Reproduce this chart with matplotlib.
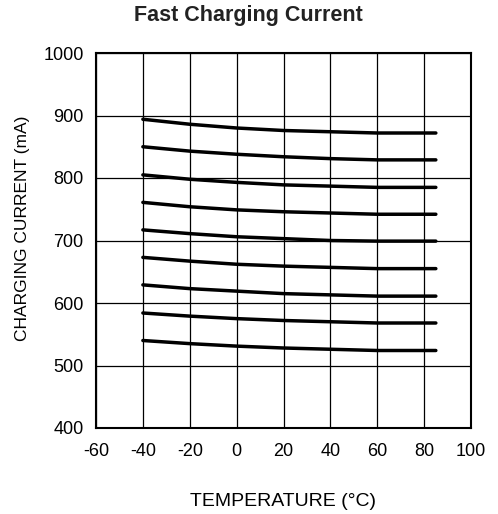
import matplotlib
matplotlib.use("Agg")
import matplotlib.pyplot as plt

temps = [-40, -20, 0, 20, 40, 60, 85]
curves = [
    [894, 886, 880, 876, 874, 872, 872],
    [850, 843, 838, 834, 831, 829, 829],
    [805, 798, 793, 789, 787, 785, 785],
    [761, 754, 749, 746, 744, 742, 742],
    [717, 711, 706, 703, 700, 699, 699],
    [673, 667, 662, 659, 657, 655, 655],
    [629, 623, 619, 615, 613, 611, 611],
    [584, 579, 575, 572, 570, 568, 568],
    [540, 535, 531, 528, 526, 524, 524],
]
xticks = [-60, -40, -20, 0, 20, 40, 60, 80, 100]
yticks = [400, 500, 600, 700, 800, 900, 1000]

plt.rcParams['font.family'] = ['Liberation Sans', 'DejaVu Sans']
plt.rcParams['axes.unicode_minus'] = False

W, H = 498, 514
fig = plt.figure(figsize=(W / 100, H / 100), dpi=100)
ax = fig.add_axes([96 / W, 1 - 428 / H, 375 / W, 375 / H])

for c in curves:
    ax.plot(temps, c, color='black', lw=2.5, solid_capstyle='round')

ax.set_xlim(-60, 100)
ax.set_ylim(400, 1000)
ax.set_xticks(xticks)
ax.set_yticks(yticks)
ax.grid(True, color='black', lw=0.9)
ax.set_axisbelow(True)
for s in ax.spines.values():
    s.set_linewidth(1.5)
ax.tick_params(length=0, labelsize=13)
ax.tick_params(axis='x', pad=11)
ax.tick_params(axis='y', pad=9)

fig.text(283 / W, 1 - 501 / H, 'TEMPERATURE (°C)', ha='center', va='center',
         fontsize=14)
fig.text(23 / W, 1 - 228 / H, 'CHARGING CURRENT (mA)', ha='center', va='center',
         rotation=90, fontsize=12.5)
fig.text(248 / W, 1 - 15 / H, 'Fast Charging Current', ha='center', va='center',
         fontsize=15.5, fontweight='bold', color='#222222')

fig.savefig('out.png', dpi=100)
